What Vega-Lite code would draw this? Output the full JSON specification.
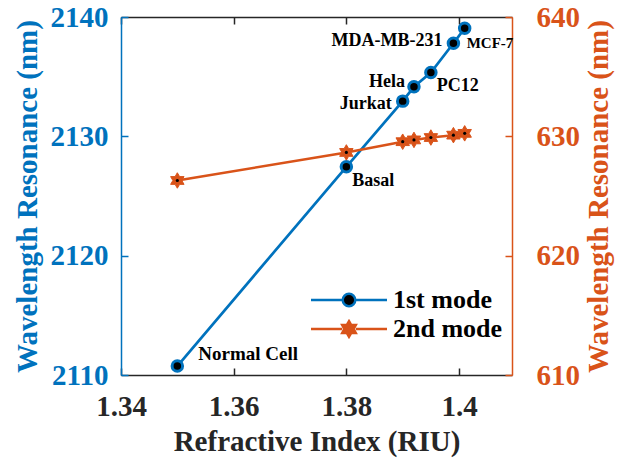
{
  "$schema": "https://vega.github.io/schema/vega-lite/v6.json",
  "width": 391,
  "height": 358,
  "autosize": {"type": "none"},
  "padding": {"left": 121, "top": 17, "right": 108, "bottom": 86},
  "background": "white",
  "config": {
    "view": {"stroke": null},
    "font": "Liberation Serif, Times New Roman, serif",
    "axis": {
      "grid": false,
      "labelFont": "Liberation Serif, Times New Roman, serif",
      "labelFontSize": 29,
      "labelFontWeight": "bold",
      "titleFont": "Liberation Serif, Times New Roman, serif",
      "titleFontSize": 29,
      "titleFontWeight": "bold",
      "tickSize": -7,
      "tickWidth": 1.5,
      "domainWidth": 1.5,
      "labelFlush": false
    },
    "legend": {"labelFont": "Liberation Serif, Times New Roman, serif"},
    "text": {"font": "Liberation Serif, Times New Roman, serif"}
  },
  "data": {
    "values": [
      {"ri": 1.35, "m1": 2110.75, "m2": 626.3, "cell": "Normal Cell"},
      {"ri": 1.38, "m1": 2127.45, "m2": 628.65, "cell": "Basal"},
      {"ri": 1.39, "m1": 2132.95, "m2": 629.55, "cell": "Jurkat"},
      {"ri": 1.392, "m1": 2134.15, "m2": 629.7, "cell": "Hela"},
      {"ri": 1.395, "m1": 2135.35, "m2": 629.9, "cell": "PC12"},
      {"ri": 1.399, "m1": 2137.8, "m2": 630.1, "cell": "MDA-MB-231"},
      {"ri": 1.401, "m1": 2139.05, "m2": 630.25, "cell": "MCF-7"}
    ]
  },
  "layer": [
    {
      "encoding": {
        "x": {
          "field": "ri", "type": "quantitative",
          "scale": {"domain": [1.34, 1.4094], "nice": false, "zero": false},
          "axis": {"orient": "bottom", "values": [1.34, 1.36, 1.38, 1.4], "format": ".2~f",
                   "title": "Refractive Index (RIU)", "domainColor": "#262626", "tickColor": "#262626",
                   "labelColor": "#262626", "titleColor": "#262626", "labelPadding": 24, "titlePadding": 6}
        },
        "y": {
          "field": "m1", "type": "quantitative",
          "scale": {"domain": [2110, 2140], "nice": false, "zero": false},
          "axis": {"orient": "left", "values": [2110, 2120, 2130, 2140], "format": "d",
                   "title": "Wavelength Resonance (nm)", "domainColor": "#0072BD", "tickColor": "#0072BD",
                   "labelColor": "#0072BD", "titleColor": "#0072BD", "labelPadding": 20, "titlePadding": 8}
        }
      },
      "layer": [
        {
          "mark": {"type": "line", "strokeWidth": 2.7},
          "encoding": {
            "color": {
              "datum": "1st mode", "type": "nominal",
              "scale": {"domain": ["1st mode", "2nd mode"], "range": ["#0072BD", "#D95319"]},
              "legend": {
                "orient": "none", "legendX": 215, "legendY": 270, "title": null, "padding": 0,
                "labelFont": "Liberation Serif, Times New Roman, serif", "labelFontSize": 26, "labelFontWeight": "bold",
                "labelColor": "black", "symbolSize": 361, "symbolStrokeWidth": 2.5,
                "symbolOffset": 0, "labelOffset": 31, "rowPadding": 3,
                "encode": {
                  "symbols": {
                    "update": {
                      "shape": {"signal": "datum.value === '1st mode' ? 'M-4,0L-0.66,0M0.66,0L4,0M-0.66,0A0.66,0.66,0,1,0,0.66,0A0.66,0.66,0,1,0,-0.66,0Z' : 'M-4,0L-0.72,0M0.72,0L4,0M0,-0.82L0.237,-0.41L0.71,-0.41L0.473,0L0.71,0.41L0.237,0.41L0,0.82L-0.237,0.41L-0.71,0.41L-0.473,0L-0.71,-0.41L-0.237,-0.41Z'"},
                      "fill": {"signal": "datum.value === '1st mode' ? 'black' : '#D95319'"},
                      "strokeWidth": {"value": 2.5}
                    }
                  }
                }
              }
            }
          }
        },
        {
          "mark": {"type": "point", "shape": "circle", "filled": true, "fill": "black", "stroke": "#0072BD", "strokeWidth": 3, "size": 110, "opacity": 1}
        },
        {
          "transform": [{"filter": "datum.cell === 'Normal Cell'"}],
          "mark": {"type": "text", "align": "left", "dx": 21, "dy": -12, "font": "Liberation Serif, Times New Roman, serif", "fontSize": 19, "fontWeight": "bold", "color": "black"},
          "encoding": {"text": {"field": "cell"}}
        },
        {
          "transform": [{"filter": {"field": "cell", "oneOf": ["Basal", "PC12"]}}],
          "mark": {"type": "text", "align": "left", "dx": 6, "dy": 14, "font": "Liberation Serif, Times New Roman, serif", "fontSize": 18, "fontWeight": "bold", "color": "black"},
          "encoding": {"text": {"field": "cell"}}
        },
        {
          "transform": [{"filter": "datum.cell === 'MCF-7'"}],
          "mark": {"type": "text", "align": "left", "dx": 2, "dy": 15, "font": "Liberation Serif, Times New Roman, serif", "fontSize": 15, "fontWeight": "bold", "color": "black"},
          "encoding": {"text": {"field": "cell"}}
        },
        {
          "transform": [{"filter": "datum.cell === 'Jurkat'"}],
          "mark": {"type": "text", "align": "right", "dx": -11, "dy": 3, "font": "Liberation Serif, Times New Roman, serif", "fontSize": 18, "fontWeight": "bold", "color": "black"},
          "encoding": {"text": {"field": "cell"}}
        },
        {
          "transform": [{"filter": "datum.cell === 'Hela'"}],
          "mark": {"type": "text", "align": "right", "dx": -9, "dy": -5, "font": "Liberation Serif, Times New Roman, serif", "fontSize": 18, "fontWeight": "bold", "color": "black"},
          "encoding": {"text": {"field": "cell"}}
        },
        {
          "transform": [{"filter": "datum.cell === 'MDA-MB-231'"}],
          "mark": {"type": "text", "align": "right", "dx": -11, "dy": -2, "font": "Liberation Serif, Times New Roman, serif", "fontSize": 18, "fontWeight": "bold", "color": "black"},
          "encoding": {"text": {"field": "cell"}}
        }
      ]
    },
    {
      "encoding": {
        "x": {
          "field": "ri", "type": "quantitative",
          "scale": {"domain": [1.34, 1.4094], "nice": false, "zero": false},
          "axis": {"orient": "top", "values": [1.34, 1.36, 1.38, 1.4], "labels": false, "title": null,
                   "domainColor": "#262626", "tickColor": "#262626"}
        },
        "y": {
          "field": "m2", "type": "quantitative",
          "scale": {"domain": [610, 640], "nice": false, "zero": false},
          "axis": {"orient": "right", "values": [610, 620, 630, 640], "format": "d",
                   "title": "Wavelength Resonance (nm)", "titleAngle": 270, "domainColor": "#D95319", "tickColor": "#D95319",
                   "labelColor": "#D95319", "titleColor": "#D95319", "labelPadding": 31, "titlePadding": 34}
        }
      },
      "layer": [
        {
          "mark": {"type": "line", "strokeWidth": 2.5},
          "encoding": {"color": {"datum": "2nd mode", "type": "nominal"}}
        },
        {
          "mark": {"type": "point", "shape": "M0,-1L0.289,-0.5L0.866,-0.5L0.577,0L0.866,0.5L0.289,0.5L0,1L-0.289,0.5L-0.866,0.5L-0.577,0L-0.866,-0.5L-0.289,-0.5Z", "filled": true, "fill": "#D95319", "stroke": "#D95319", "strokeWidth": 1, "size": 240, "opacity": 1}
        },
        {
          "mark": {"type": "point", "shape": "circle", "filled": true, "fill": "black", "size": 10, "opacity": 1}
        }
      ]
    }
  ],
  "resolve": {"scale": {"y": "independent"}, "axis": {"x": "independent"}}
}
